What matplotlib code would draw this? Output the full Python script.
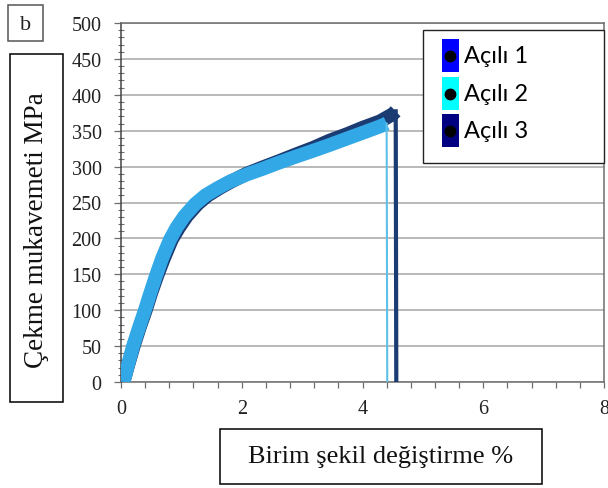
import matplotlib

matplotlib.use("Agg")
import matplotlib.pyplot as plt
from matplotlib.lines import Line2D
from matplotlib.patches import Rectangle
from matplotlib.ticker import MultipleLocator

# stress-strain curves (strain %, stress MPa); last point = rupture drop
strain_1 = [0.04, 0.12, 0.20, 0.30, 0.40, 0.50, 0.59, 0.69, 0.82, 0.94, 1.07, 1.25, 1.42,
            1.62, 1.81, 2.08, 2.35, 2.60, 2.90, 3.18, 3.45, 3.74, 4.00, 4.29, 4.50, 4.55, 4.56]
stress_1 = [0, 25, 50, 76, 100, 125, 148, 172, 198, 215, 231, 248, 260,
            270, 279, 289, 298, 306, 315, 324, 333, 342, 350, 359, 368, 372, 0]
strain_2 = [0.04, 0.12, 0.20, 0.30, 0.40, 0.49, 0.58, 0.68, 0.81, 0.92, 1.05, 1.23, 1.40,
            1.60, 1.80, 2.08, 2.35, 2.60, 2.90, 3.18, 3.45, 3.74, 4.00, 4.29, 4.40, 4.41]
stress_2 = [0, 25, 50, 76, 101, 125, 148, 172, 198, 215, 231, 248, 260,
            270, 279, 289, 297, 305, 314, 322, 330, 339, 347, 356, 360, 0]
strain_3 = [0.04, 0.12, 0.21, 0.31, 0.41, 0.50, 0.60, 0.71, 0.84, 0.96, 1.09, 1.27, 1.44,
            1.63, 1.82, 2.08, 2.35, 2.60, 2.90, 3.18, 3.45, 3.74, 4.00, 4.29, 4.50, 4.55, 4.56]
stress_3 = [0, 24, 50, 76, 100, 124, 148, 172, 198, 215, 231, 248, 260,
            270, 279, 290, 299, 307, 317, 326, 336, 345, 354, 363, 373, 377, 0]

labels = ["Açılı 1", "Açılı 2", "Açılı 3"]
legend_colors = ["#0000FF", "#00FFFF", "#000080"]
line_colors = ["#1B3C73", "#33A8E6", "#1B3C73"]
drop_colors = ["#1B3C73", "#5CC0E8", "#1B3C73"]

x_ticks = [0, 2, 4, 6, 8]
y_ticks = [0, 50, 100, 150, 200, 250, 300, 350, 400, 450, 500]

SERIF = ["Liberation Serif", "DejaVu Serif"]
GRID = "#A6A6A6"
SPINE = "#6E6E6E"

W, H = 608, 489
fig = plt.figure(figsize=(W / 100, H / 100), dpi=100)
ax = fig.add_axes([121 / W, 1 - 383 / H, (604 - 121) / W, (383 - 24) / H])

ax.set_xlim(0, 8)
ax.set_ylim(0, 500)
ax.set_xticks(x_ticks)
ax.set_yticks(y_ticks)
ax.xaxis.set_minor_locator(MultipleLocator(0.4))
ax.yaxis.set_minor_locator(MultipleLocator(10))
ax.grid(axis="y", which="major", color=GRID, lw=1.1, zorder=0)
ax.set_axisbelow(True)
for side in ["left", "bottom", "top", "right"]:
    ax.spines[side].set_color(SPINE)
    ax.spines[side].set_linewidth(1.1)
ax.spines["left"].set_color("#444444")
ax.tick_params(axis="y", which="major", direction="out", length=5, width=0.9,
               color=SPINE, pad=9, labelsize=14.5, labelcolor="#222222")
ax.tick_params(axis="y", which="minor", direction="inout", length=4, width=0.8, color=SPINE)
ax.tick_params(axis="x", which="both", direction="out", length=4, width=0.9,
               color=SPINE, pad=8, labelsize=14.5, labelcolor="#222222")
for lab in ax.get_xticklabels() + ax.get_yticklabels():
    lab.set_family(SERIF)

# draw order: Açılı 1 (hidden), Açılı 3, then Açılı 2 on top
series = [(strain_1, stress_1, 0, 5, 2.0), (strain_3, stress_3, 2, 10, 3.0),
          (strain_2, stress_2, 1, 10, 1.5)]
for sx, sy, k, lw, dlw in series:
    ax.plot(sx[:-1], sy[:-1], color=line_colors[k], lw=lw, solid_joinstyle="round",
            solid_capstyle="butt", zorder=3)
    ax.plot(sx[-2:], sy[-2:], color=drop_colors[k], lw=dlw, zorder=3)

# panel letter box
fig.patches.append(Rectangle((8 / W, 1 - 42 / H), 35 / W, 36 / H, transform=fig.transFigure,
                             fill=False, ec="#555555", lw=1.1))
fig.text(25.5 / W, 1 - 25 / H, "b", ha="center", va="center", fontsize=16, family=SERIF,
         color="#222222")

# axis title boxes
fig.patches.append(Rectangle((10 / W, 1 - 403 / H), 53 / W, 348 / H, transform=fig.transFigure,
                             fill=False, ec="black", lw=1.1))
fig.text(37 / W, 1 - 230 / H, "Çekme mukavemeti MPa", rotation=90, ha="center", va="center",
         fontsize=19.5, family=SERIF, color="#111111")
fig.patches.append(Rectangle((220 / W, 1 - 485 / H), 322 / W, 55 / H, transform=fig.transFigure,
                             fill=False, ec="black", lw=1.1))
fig.text(380.5 / W, 1 - 457 / H, "Birim şekil değiştirme %", ha="center", va="center",
         fontsize=19, family=SERIF, color="#111111")

# legend box drawn by hand
fig.patches.append(Rectangle((423 / W, 1 - 164 / H), 181 / W, 133 / H, transform=fig.transFigure,
                             fc="white", ec="#222222", lw=1.0, zorder=5))
row_centers = [56.5, 94.5, 131.5]
for lab, col, yc in zip(labels, legend_colors, row_centers):
    fig.patches.append(Rectangle((442 / W, 1 - (yc + 16.5) / H), 17 / W, 33 / H,
                                 transform=fig.transFigure, fc=col, ec="none", zorder=6))
    fig.add_artist(Line2D([450 / W], [1 - yc / H], transform=fig.transFigure, marker="o",
                          ms=7.5, color="black", ls="none", zorder=7))
    fig.text(464 / W, 1 - yc / H, lab, ha="left", va="center", fontsize=17,
             family=["Lato", "DejaVu Sans"], color="black", zorder=7)

fig.savefig("out.png", dpi=100)
